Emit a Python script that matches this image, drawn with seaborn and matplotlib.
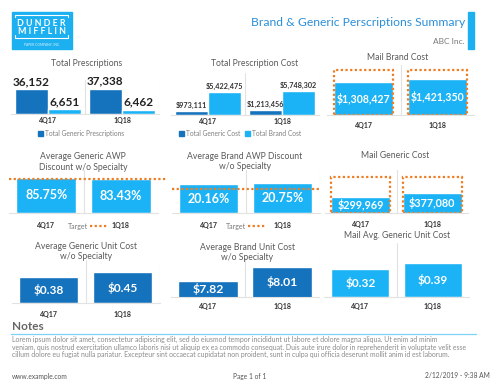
import numpy as np
import pandas as pd
import matplotlib.pyplot as plt
import seaborn as sns
from matplotlib.lines import Line2D
from matplotlib.patches import Patch, Rectangle

# ---- data ----
quarters = ["4Q17", "1Q18"]
total_generic_rx = [36152, 37338]
total_brand_rx = [6651, 6462]
generic_cost = [973111, 1213456]
brand_cost = [5422475, 5748302]
mail_brand_cost = [1308427, 1421350]
mail_brand_target = [1800000, 1800000]
generic_awp = [85.75, 83.43]
generic_awp_target = 83
brand_awp = [20.16, 20.75]
brand_awp_target = 17
mail_generic_cost = [299969, 377080]
mail_generic_target = [700000, 700000]
generic_unit = [0.38, 0.45]
brand_unit = [7.82, 8.01]
mail_generic_unit = [0.32, 0.39]

DARK = "#1572BC"
LIGHT = "#1BB3F5"
ORANGE = "#F07C22"
GRID = "#E2E2E2"
TITLE_C = "#5A5A5A"
DOTS = (0, (1, 1.1))

sns.set_theme(style="white")
plt.rcParams["font.family"] = ["Lato", "DejaVu Sans"]

W, H = 500, 386
fig = plt.figure(figsize=(5, 3.86), dpi=100)
fig.patch.set_facecolor("white")


def fx(x):
    return x / W


def fy(y):
    return 1 - y / H


def add_ax(left, top, right, bottom):
    return fig.add_axes([left / W, 1 - bottom / H, (right - left) / W, (bottom - top) / H])


def style_ax(ax, ymin, ymax, pad):
    ax.set_xlim(-0.5, 1.5)
    ax.set_ylim(ymin, ymax)
    ax.set_xlabel("")
    ax.set_ylabel("")
    ax.set_yticks([])
    for s in ["top", "left", "right"]:
        ax.spines[s].set_visible(False)
    ax.spines["bottom"].set_color(GRID)
    ax.spines["bottom"].set_linewidth(0.8)
    for x in (0.5, 1.5):
        ax.axvline(x, color=GRID, lw=0.8, zorder=0)
    ax.tick_params(axis="x", length=0, pad=pad, labelsize=5, labelcolor="#333333")
    for t in ax.get_xticklabels():
        t.set_fontweight("bold")
    ax.patch.set_alpha(0)


def title(x, y, s):
    fig.text(fx(x), fy(y), s, ha="center", va="center", fontsize=6.2, color=TITLE_C,
             linespacing=1.2)


def target_legend(ax, x, y):
    h = Line2D([0], [0], color=ORANGE, lw=1.6, ls=DOTS)
    ax.legend(handles=[h], labels=["Target"], loc="center", bbox_to_anchor=(fx(x), fy(y)),
              bbox_transform=fig.transFigure, frameon=False, markerfirst=False,
              fontsize=5, handlelength=2.6, handletextpad=0.3, labelcolor="#777777")


# ---- header ----
fig.add_artist(Rectangle((fx(12), fy(49)), 60 / W, 37 / H, transform=fig.transFigure,
                         color="#1CB0F0", zorder=0))
fig.add_artist(Line2D([fx(15), fx(15), fx(68), fx(68)], [fy(17), fy(14.5), fy(14.5), fy(17)],
                      color="white", lw=0.8, transform=fig.transFigure))
fig.add_artist(Line2D([fx(15), fx(15), fx(68), fx(68)], [fy(35), fy(38), fy(38), fy(35)],
                      color="white", lw=0.8, transform=fig.transFigure))
fig.text(fx(41.5), fy(23), "D U N D E R", ha="center", va="center", fontsize=6.4,
         fontweight="bold", color="white")
fig.text(fx(41.5), fy(31.5), "M I F F L I N", ha="center", va="center", fontsize=6.4,
         fontweight="bold", color="white")
fig.text(fx(41.5), fy(44.5), "PAPER COMPANY, INC.", ha="center", va="center", fontsize=2.4,
         color="#D8F2FF")

fig.text(fx(465), fy(23), "Brand & Generic Perscriptions Summary", ha="right", va="center",
         fontsize=8.7, color="#2B8FD8")
fig.text(fx(465), fy(41), "ABC Inc.", ha="right", va="center", fontsize=6, color="#7A7A7A")
fig.add_artist(Rectangle((fx(468), fy(49)), 6 / W, 37 / H, transform=fig.transFigure,
                         color="#1CB0F0"))

# ---- row 1 ----
# Total Prescriptions
df1 = pd.DataFrame({
    "quarter": quarters * 2,
    "value": total_generic_rx + total_brand_rx,
    "series": ["Total Generic Prescriptions"] * 2 + ["Total Brand Prescriptions"] * 2,
})
ax1 = add_ax(11, 80, 159, 114)
sns.barplot(data=df1, x="quarter", y="value", hue="series", palette=[DARK, LIGHT],
            width=0.9, saturation=1, legend=False, ax=ax1)
for c in ax1.containers:
    ax1.bar_label(c, labels=[f"{v:,.0f}" for v in c.datavalues], fontsize=8.5,
                  fontweight="bold", color="#222222", padding=1.5)
style_ax(ax1, 0, 50000, 2.5)
title(87, 63, "Total Prescriptions")
ax1.legend(handles=[Patch(color=DARK)], labels=["Total Generic Prescriptions"], loc="center",
           bbox_to_anchor=(fx(81), fy(133)), bbox_transform=fig.transFigure, frameon=False,
           fontsize=4.8, handlelength=0.7, handleheight=0.7, handletextpad=0.3,
           labelcolor="#808080")

# Total Prescription Cost
df2 = pd.DataFrame({
    "quarter": quarters * 2,
    "value": generic_cost + brand_cost,
    "series": ["Total Generic Cost"] * 2 + ["Total Brand Cost"] * 2,
})
ax2 = add_ax(171, 73, 319, 115)
sns.barplot(data=df2, x="quarter", y="value", hue="series", palette=[DARK, LIGHT],
            width=0.88, saturation=1, legend=False, ax=ax2)
for c in ax2.containers:
    ax2.bar_label(c, labels=[f"${v:,.0f}" for v in c.datavalues], fontsize=5.2,
                  fontweight="bold", color="#333333", padding=1.5)
style_ax(ax2, 0, 10000000, 2)
title(255, 63, "Total Prescription Cost")
ax2.legend(handles=[Patch(color=DARK), Patch(color=LIGHT)],
           labels=["Total Generic Cost", "Total Brand Cost"], loc="center", ncol=2,
           bbox_to_anchor=(fx(240), fy(133)), bbox_transform=fig.transFigure, frameon=False,
           fontsize=4.8, handlelength=0.7, handleheight=0.7, handletextpad=0.3,
           columnspacing=0.8, labelcolor="#808080")

# Mail Brand Cost
ax3 = add_ax(327, 65, 474, 115)
sns.barplot(x=quarters, y=mail_brand_cost, color=LIGHT, width=0.8, saturation=1, ax=ax3)
ax3.bar_label(ax3.containers[0], labels=[f"${v:,.0f}" for v in mail_brand_cost],
              label_type="center", fontsize=7.6, fontweight="bold", color="white")
sns.barplot(x=quarters, y=mail_brand_target, color=ORANGE, fill=False, width=0.8,
            linestyle=DOTS, linewidth=1.6, ax=ax3)
style_ax(ax3, 0, 2000000, 5)
title(398, 57, "Mail Brand Cost")

# ---- row 2 ----
ax4 = add_ax(9, 170, 158, 213)
sns.barplot(x=quarters, y=generic_awp, color=LIGHT, width=0.81, saturation=1, ax=ax4)
ax4.bar_label(ax4.containers[0], labels=[f"{v:.2f}%" for v in generic_awp],
              label_type="center", fontsize=9, fontweight="bold", color="white")
ax4.axhline(generic_awp_target, xmin=0, xmax=1.06, clip_on=False, color=ORANGE, lw=1.6, ls=DOTS)
style_ax(ax4, 0, 105, 6.5)
title(83, 162, "Average Generic AWP\nDiscount w/o Specialty")
target_legend(ax4, 88, 226)

ax5 = add_ax(171.5, 170, 319.5, 213)
sns.barplot(x=quarters, y=brand_awp, color=LIGHT, width=0.8, saturation=1, ax=ax5)
ax5.bar_label(ax5.containers[0], labels=[f"{v:.2f}%" for v in brand_awp],
              label_type="center", fontsize=9, fontweight="bold", color="white")
ax5.axhline(brand_awp_target, color=ORANGE, lw=1.6, ls=DOTS)
style_ax(ax5, 0, 30, 6.5)
title(245, 161.5, "Average Brand AWP Discount\nw/o Specialty")
target_legend(ax5, 246, 226)

ax6 = add_ax(325, 170, 468, 213)
sns.barplot(x=quarters, y=mail_generic_cost, color=LIGHT, width=0.82, saturation=1, ax=ax6)
ax6.bar_label(ax6.containers[0], labels=[f"${v:,.0f}" for v in mail_generic_cost],
              label_type="center", fontsize=7.8, fontweight="bold", color="white")
sns.barplot(x=quarters, y=mail_generic_target, color=ORANGE, fill=False, width=0.82,
            linestyle=DOTS, linewidth=1.6, ax=ax6)
style_ax(ax6, 0, 830000, 6)
title(395, 155, "Mail Generic Cost")

# ---- row 3 ----
ax7 = add_ax(11.5, 260, 159.5, 303)
sns.barplot(x=quarters, y=generic_unit, color=DARK, width=0.8, saturation=1, ax=ax7)
ax7.bar_label(ax7.containers[0], labels=[f"${v:.2f}" for v in generic_unit],
              label_type="center", fontsize=8.6, fontweight="bold", color="white")
style_ax(ax7, 0, 0.625, 6)
title(86, 251.5, "Average Generic Unit Cost\nw/o Specialty")

ax8 = add_ax(171, 258, 319, 297)
sns.barplot(x=quarters, y=brand_unit, color=DARK, width=0.8, saturation=1, ax=ax8)
style_ax(ax8, 7.6, 8.13, 4.5)
# axis starts at 7.6, so centre the labels on the visible part of each bar
for bar, v in zip(ax8.containers[0], brand_unit):
    ax8.text(bar.get_x() + bar.get_width() / 2, (7.6 + bar.get_height()) / 2, f"${v:.2f}",
             ha="center", va="center", fontsize=8.8, fontweight="bold", color="white")
title(247, 252.5, "Average Brand Unit Cost\nw/o Specialty")

ax9 = add_ax(324, 243, 469, 297)
sns.barplot(x=quarters, y=mail_generic_unit, color=LIGHT, width=0.8, saturation=1, ax=ax9)
ax9.bar_label(ax9.containers[0], labels=[f"${v:.2f}" for v in mail_generic_unit],
              label_type="center", fontsize=8.6, fontweight="bold", color="white")
style_ax(ax9, 0, 0.62, 4.5)
title(397, 236, "Mail Avg. Generic Unit Cost")

# ---- notes & footer ----
fig.text(fx(12), fy(327), "Notes", ha="left", va="center", fontsize=8.5, fontweight="bold",
         color="#666666")
fig.add_artist(Line2D([fx(11), fx(476)], [fy(334), fy(334)], color="#7FD2F7", lw=0.9,
                      transform=fig.transFigure))
notes = [
    "Lorem ipsum dolor sit amet, consectetur adipiscing elit, sed do eiusmod tempor incididunt ut labore et dolore magna aliqua. Ut enim ad minim",
    "veniam, quis nostrud exercitation ullamco laboris nisi ut aliquip ex ea commodo consequat. Duis aute irure dolor in reprehenderit in voluptate velit esse",
    "cillum dolore eu fugiat nulla pariatur. Excepteur sint occaecat cupidatat non proident, sunt in culpa qui officia deserunt mollit anim id est laborum.",
]
for i, line in enumerate(notes):
    fig.text(fx(12), fy(339.5 + 7.5 * i), line, ha="left", va="center", fontsize=4.95,
             color="#8A8A8A")

fig.text(fx(12), fy(376), "www.example.com", ha="left", va="center", fontsize=4.8, color="#555555")
fig.text(fx(250), fy(376), "Page 1 of 1", ha="center", va="center", fontsize=4.8, color="#555555")
fig.text(fx(490), fy(376), "2/12/2019 - 9:38 AM", ha="right", va="center", fontsize=4.8,
         color="#555555")

fig.savefig("out.png", dpi=100)
